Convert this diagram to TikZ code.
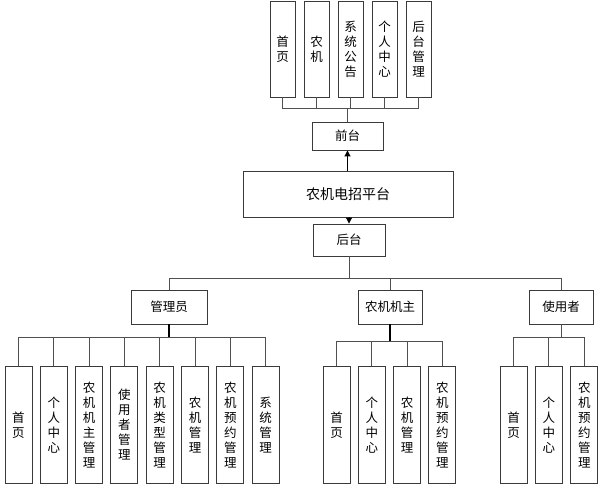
\documentclass[tikz,border=0pt]{standalone}
\usepackage{fontspec}
\newfontfamily\cjk{Noto Sans CJK SC}
\usetikzlibrary{arrows.meta}
\definecolor{boxc}{HTML}{3A3A3A}
\definecolor{linec}{HTML}{505050}
\tikzset{
  box/.style={draw=boxc, line width=0.9pt, fill=white, inner sep=0pt, align=center,
    font=\cjk\fontsize{12.5}{15}\selectfont},
  vbox/.style={box, minimum width=#1, minimum height=117pt},
  topbox/.style={box, minimum width=25pt, minimum height=96pt},
  conn/.style={draw=linec, line width=1pt},
  arr/.style={draw=black, line width=1pt, -{Triangle[width=6pt,length=6pt]}}
}
\begin{document}
\begin{tikzpicture}[x=1pt,y=-1pt]
\useasboundingbox (0,0) rectangle (605,493);
% top row
\node[topbox] (t1) at (282.5,49) {首\\页};
\node[topbox] (t2) at (316.5,49) {农\\机};
\node[topbox] (t3) at (350.5,49) {系\\统\\公\\告};
\node[topbox] (t4) at (384.5,49) {个\\人\\中\\心};
\node[topbox] (t5) at (418.5,49) {后\\台\\管\\理};
\node[box, minimum width=71pt, minimum height=28pt] (qt) at (347.5,136) {前台};
\node[box, minimum width=210pt, minimum height=46pt, font=\cjk\fontsize{14}{16}\selectfont] (main) at (348,194) {农机电招平台};
\node[box, minimum width=72pt, minimum height=32pt] (ht) at (349,240) {后台};
\coordinate (tb) at (347.5,108);
\foreach \n in {t1,t2,t3,t4,t5} \draw[conn] (\n.south) |- (tb) -- (qt.north);
\draw[arr] (main.north -| qt.south) -- (qt.south);
\draw[arr] (main.south -| ht.north) -- (ht.north);
% middle level
\node[box, minimum width=76pt, minimum height=34pt] (gly) at (169,307) {管理员};
\node[box, minimum width=64pt, minimum height=34pt] (jz) at (390,307) {农机机主};
\node[box, minimum width=64pt, minimum height=34pt] (syz) at (561,307) {使用者};
\coordinate (mb) at (349,278);
\draw[conn] (ht.south) -- (mb);
\foreach \n in {gly,jz,syz} \draw[conn] (\n.north) |- (mb);
% admin children
\node[vbox=27pt] (a1) at (18.5,425) {首\\页};
\node[vbox=27pt] (a2) at (53.8,425) {个\\人\\中\\心};
\node[vbox=27pt] (a3) at (89.1,425) {农\\机\\机\\主\\管\\理};
\node[vbox=27pt] (a4) at (124.4,425) {使\\用\\者\\管\\理};
\node[vbox=27pt] (a5) at (159.7,425) {农\\机\\类\\型\\管\\理};
\node[vbox=27pt] (a6) at (195,425) {农\\机\\管\\理};
\node[vbox=27pt] (a7) at (230.3,425) {农\\机\\预\\约\\管\\理};
\node[vbox=27pt] (a8) at (265.6,425) {系\\统\\管\\理};
\coordinate (ab) at (169,337);
\foreach \n in {a1,a2,a3,a4,a5,a6,a7,a8} \draw[conn] (\n.north) |- (ab);
\draw[conn, line width=1.6pt, draw=black] (gly.south) -- (ab);
% owner children
\node[vbox=27pt] (o1) at (336.5,425) {首\\页};
\node[vbox=27pt] (o2) at (371.8,425) {个\\人\\中\\心};
\node[vbox=27pt] (o3) at (407.1,425) {农\\机\\管\\理};
\node[vbox=27pt] (o4) at (442.4,425) {农\\机\\预\\约\\管\\理};
\coordinate (ob) at (390,341);
\foreach \n in {o1,o2,o3,o4} \draw[conn] (\n.north) |- (ob);
\draw[conn, line width=1.6pt, draw=black] (jz.south) -- (ob);
% user children
\node[vbox=27pt] (u1) at (513.5,425) {首\\页};
\node[vbox=27pt] (u2) at (548.8,425) {个\\人\\中\\心};
\node[vbox=27pt] (u3) at (584.3,425) {农\\机\\预\\约\\管\\理};
\coordinate (ub) at (561,337);
\foreach \n in {u1,u2,u3} \draw[conn] (\n.north) |- (ub);
\draw[conn] (syz.south) -- (ub);
\end{tikzpicture}
\end{document}
